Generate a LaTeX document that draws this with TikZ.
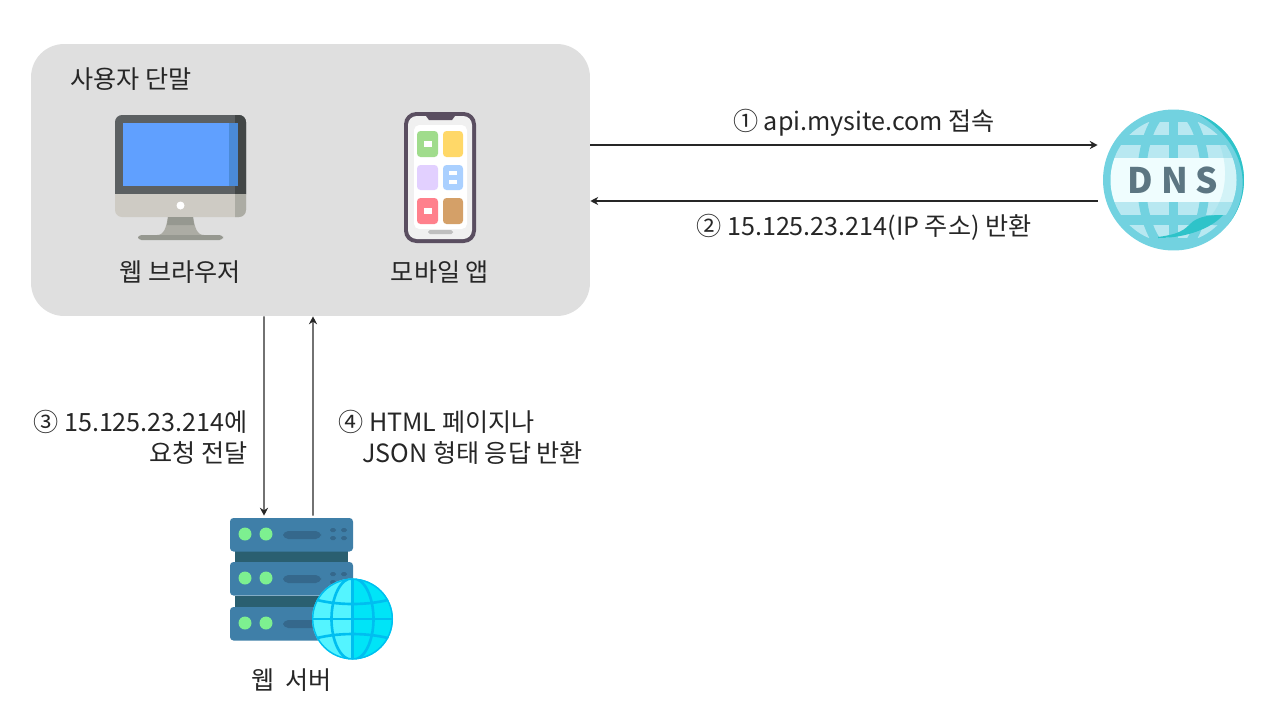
\documentclass[tikz,border=0pt]{standalone}
\usepackage{fontspec}
\usetikzlibrary{arrows.meta}
\setmainfont{Noto Sans CJK KR}
\definecolor{boxgray}{HTML}{DFDFDF}
\definecolor{dnsteal}{HTML}{72D2E0}
\definecolor{dnspale}{HTML}{B8E8F1}
\definecolor{dnsband}{HTML}{EFFDFE}
\definecolor{dnsdark}{HTML}{2EC3C9}
\definecolor{rackblue}{HTML}{3F7FA8}
\definecolor{rackdark}{HTML}{2A5F70}
\definecolor{rackslot}{HTML}{35688C}
\definecolor{ledgreen}{HTML}{7DF090}
\definecolor{globeline}{HTML}{00BEF0}
\begin{document}
\begin{tikzpicture}[x=0.02cm, y=-0.02cm]
        \tikzstyle{lbl} = [inner sep=0pt, font=\fontsize{14.3}{17.6}\selectfont, text=black!85]
        \tikzstyle{tile} = [rounded corners=2pt]
        \tikzstyle{arr} = [->, >={Stealth[length=4.5pt, width=4.6pt]}, line width=0.8pt, black!85]
        \useasboundingbox (0, 0) rectangle (1262, 708);
        \node[fill=boxgray, rounded corners=0.66cm, minimum width=11.18cm, minimum height=5.44cm, inner sep=0pt] (client) at (310.5, 180) {};
        \node[lbl, anchor=west] (clientlabel) at (70, 79) {사용자 단말};

        \fill[fill={rgb,255:red,92;green,96;blue,98}] (115, 194) [rounded corners=4pt] -- (115, 115) -- (246, 115) [sharp corners] -- (246, 194) -- cycle;
        \fill[fill={rgb,255:red,66;green,70;blue,70}] (235, 194) -- (235, 115) [rounded corners=4pt] -- (246, 115) [sharp corners] -- (246, 194) -- cycle;
        \fill[fill={rgb,255:red,206;green,203;blue,196}] (115, 194) [rounded corners=4pt] -- (115, 217) -- (246, 217) [sharp corners] -- (246, 194) -- cycle;
        \fill[fill={rgb,255:red,172;green,172;blue,164}] (235, 194) -- (235, 217) [rounded corners=4pt] -- (246, 217) [sharp corners] -- (246, 194) -- cycle;
        \fill[fill={rgb,255:red,96;green,160;blue,255}] (123, 123) rectangle (229, 186);
        \fill[fill={rgb,255:red,74;green,138;blue,216}] (229, 123) rectangle (238, 186);
        \fill[white] (180.5, 205.5) circle (4);
        \fill[fill={rgb,255:red,172;green,172;blue,164}] (168, 217) -- (193, 217) .. controls (195, 228) and (197, 235) .. (204, 235) -- (157, 235) .. controls (164, 235) and (166, 228) .. cycle;
        \fill[fill={rgb,255:red,150;green,152;blue,144}] (168, 217) -- (193, 217) -- (194, 225) -- (167, 225) -- cycle;
        \fill[rounded corners=2pt, fill={rgb,255:red,150;green,152;blue,144}] (138, 235) rectangle (223, 240);
        \node[lbl] (browserlabel) at (180, 272) {웹 브라우저};

        \fill[rounded corners=7pt, fill={rgb,255:red,90;green,78;blue,96}] (404, 112) rectangle (476, 243);
        \fill[rounded corners=5pt, fill=black!6] (408, 116) rectangle (472, 239);
        \fill[rounded corners=3pt, fill=white] (414, 125) rectangle (467, 229);
        \fill[fill={rgb,255:red,90;green,78;blue,96}] (426, 116) -- (429, 120) -- (452, 120) -- (455, 116) -- cycle;
        \fill[tile, fill={rgb,255:red,160;green,220;blue,140}] (417, 131) rectangle (438, 157);
        \fill[tile, fill={rgb,255:red,255;green,216;blue,104}] (443, 131) rectangle (463, 157);
        \fill[tile, fill={rgb,255:red,226;green,208;blue,255}] (417, 165) rectangle (438, 190);
        \fill[tile, fill={rgb,255:red,170;green,208;blue,255}] (443, 165) rectangle (463, 190);
        \fill[tile, fill={rgb,255:red,255;green,128;blue,140}] (417, 198) rectangle (438, 224);
        \fill[tile, fill={rgb,255:red,212;green,160;blue,104}] (443, 198) rectangle (463, 224);
        \fill[white] (424, 141) rectangle (432, 147);
        \fill[white] (424, 208) rectangle (432, 214);
        \fill[white] (449, 171) rectangle (457, 175);
        \fill[white] (449, 180) rectangle (457, 184);
        \fill[rounded corners=1pt, fill=black!25] (428, 230) rectangle (453, 234);
        \node[lbl] (applabel) at (440, 272) {모바일 앱};

        \node[circle, fill=dnsteal, minimum size=2.82cm, inner sep=0pt] (dns) at (1173.5, 180) {};
        \begin{scope}
          \clip (1173.5, 180) circle (63);
          \fill[dnspale] (1100, 122) rectangle (1250, 135);
          \fill[dnspale] (1100, 145) rectangle (1250, 158);
          \fill[dnspale] (1100, 202) rectangle (1250, 215);
          \fill[dnspale] (1100, 225) rectangle (1250, 238);
          \fill[dnsteal] (1169, 100) rectangle (1178, 260);
          \draw[dnsteal, line width=5pt] (1173.5, 180) ellipse (32 and 72);
          \fill[dnsband] (1100, 158) rectangle (1250, 202);
          \fill[dnsteal, opacity=0.22] (1217, 138) .. controls (1232, 170) and (1225, 205) .. (1205, 222) -- (1250, 240) -- (1250, 120) -- cycle;
        \end{scope}
        \fill[dnsdark] (1197.6, 113.8) arc (-70:40:70.5) .. controls (1252, 195) and (1250, 145) .. cycle;
        \fill[dnsdark] (1158, 237) .. controls (1172, 235) and (1182, 233) .. (1190, 224) .. controls (1198, 216) and (1210, 215) .. (1223, 215) .. controls (1214, 226) and (1190, 238) .. (1158, 238) -- cycle;
        \node[inner sep=0pt, font=\fontsize{20}{24}\bfseries\selectfont, text={rgb,255:red,92;green,118;blue,130}] (dnslabel) at (1173, 180.5) {D\hspace{0.22em}N\hspace{0.22em}S};

        \node[inner sep=0pt, minimum width=2.46cm, minimum height=2.44cm] (server) at (291.5, 579) {};
        \fill[rackdark] (235, 551) rectangle (348, 562);
        \fill[rackdark] (235, 596) rectangle (348, 607);
        \foreach \ytop in {518, 562, 607} {
          \fill[rounded corners=2pt, rackblue] (230, \ytop) rectangle (353, \ytop+33.5);
          \fill[ledgreen] (245, \ytop+16) circle (6.5);
          \fill[ledgreen] (266, \ytop+16) circle (6.5);
          \fill[rounded corners=3pt, rackslot] (283, \ytop+13) rectangle (321, \ytop+21);
          \fill[rounded corners=1pt, rackslot] (330, \ytop+10) rectangle (336, \ytop+14);
          \fill[rounded corners=1pt, rackslot] (341, \ytop+10) rectangle (347, \ytop+14);
          \fill[rounded corners=1pt, rackslot] (330, \ytop+18) rectangle (336, \ytop+22);
          \fill[rounded corners=1pt, rackslot] (341, \ytop+18) rectangle (347, \ytop+22);
        }
        \begin{scope}
          \clip (352.5, 619) circle (40.5);
          \fill[fill={rgb,255:red,84;green,244;blue,255}] (310, 575) rectangle (352.5, 662);
          \fill[fill={rgb,255:red,0;green,228;blue,247}] (352.5, 575) rectangle (395, 662);
          \draw[globeline, line width=1.5pt] (352.5, 619) ellipse (21 and 41);
          \draw[globeline, line width=1.5pt] (352.5, 575) -- (352.5, 662);
          \draw[globeline, line width=1.5pt] (310, 619) -- (395, 619);
          \draw[globeline, line width=1.5pt] (310, 598) .. controls (335, 606) and (370, 606) .. (395, 598);
          \draw[globeline, line width=1.5pt] (310, 640) .. controls (335, 632) and (370, 632) .. (395, 640);
          \draw[globeline, line width=1.6pt] (352.5, 619) circle (40.5);
        \end{scope}
        \node[lbl] (serverlabel) at (291.5, 680) {웹\hspace{0.45em}서버};

        \draw[arr] ([yshift=0.7cm]client.east) -- ([xshift=-0.1cm, yshift=0.7cm]dns.west);
        \draw[arr] ([xshift=-0.1cm, yshift=-0.42cm]dns.west) -- ([yshift=-0.42cm]client.east);
        \draw[arr] ([xshift=-0.93cm]client.south) -- ([xshift=-0.55cm, yshift=0.04cm]server.north);
        \draw[arr] ([xshift=0.43cm, yshift=0.04cm]server.north) -- ([xshift=0.05cm]client.south);

        \node[lbl] (reqlabel) at (864, 122.5) {① api.mysite.com 접속};
        \node[lbl] (resplabel) at (864, 227) {② 15.125.23.214(IP 주소) 반환};
        \node[lbl, anchor=east, align=right] (fwdlabel) at (248, 437.5) {③ 15.125.23.214에\\요청 전달};
        \node[lbl, anchor=west, align=left] (backlabel) at (338, 437.5) {④ HTML 페이지나\\\hspace{0.95em}JSON 형태 응답 반환};
      \end{tikzpicture}
\end{document}
